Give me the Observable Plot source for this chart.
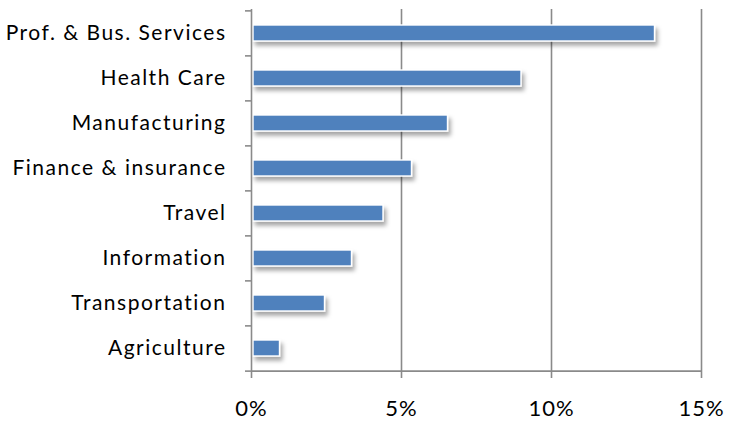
<!DOCTYPE html>
<html>
<head>
<meta charset="utf-8">
<script src="https://cdn.jsdelivr.net/npm/d3@7"></script>
<script src="https://cdn.jsdelivr.net/npm/@observablehq/plot@0.6"></script>
<style>
  html, body { margin: 0; padding: 0; background: #fff; }
  #chart svg { display: block; }
</style>
</head>
<body>
<div id="chart"></div>
<script>
const categories = ["Prof. & Bus. Services", "Health Care", "Manufacturing", "Finance & insurance", "Travel", "Information", "Transportation", "Agriculture"];
const values = [13.45, 9.0, 6.55, 5.35, 4.4, 3.35, 2.45, 0.95];
const xTicks = [0, 5, 10, 15];

const data = categories.map((c, i) => ({category: c, value: values[i]}));

const W = 729, H = 424;
const mTop = 9, mBottom = 53, mLeft = 251, mRight = 28;
const step = (H - mTop - mBottom) / categories.length;
const pad = 0.645;
const gray = "#8a8a8a";
const font = "Lato, 'Open Sans', sans-serif";

const plot = Plot.plot({
  width: W,
  height: H,
  marginTop: mTop,
  marginBottom: mBottom,
  marginLeft: mLeft,
  marginRight: mRight,
  style: {fontFamily: font, fontSize: "21px", color: "#000", background: "#fff"},
  x: {domain: [0, 15], ticks: xTicks, label: null},
  y: {domain: categories, paddingInner: pad, paddingOuter: pad / 2, label: null},
  marks: [
    Plot.gridX(xTicks.slice(1), {stroke: gray, strokeOpacity: 1, strokeWidth: 1.6}),
    Plot.barX(data, {x: "value", y: "category", fill: "#4f81bd", stroke: "#ffffff", strokeWidth: 1.4, insetLeft: 2}),
    Plot.ruleX([0], {stroke: gray, strokeWidth: 1.6}),
    Plot.ruleY([categories[categories.length - 1]], {dy: step / 2, stroke: gray, strokeWidth: 1.6, x1: 0, x2: 15}),
    Plot.axisX({ticks: xTicks, tickFormat: d => d + "%", tickSize: 7, tickPadding: 22, stroke: gray, strokeWidth: 1.6, fontSize: 22, fill: "#000", label: null}),
    Plot.axisY({tickSize: 0, tickPadding: 25, fontSize: 21, fill: "#000", label: null}),
    Plot.axisY({tickSize: 6, tickFormat: () => "", dy: -step / 2, stroke: gray, strokeWidth: 1.6, label: null}),
    Plot.axisY({ticks: [categories[categories.length - 1]], tickSize: 6, tickFormat: () => "", dy: step / 2, stroke: gray, strokeWidth: 1.6, label: null})
  ]
});

// soft drop shadow under the bars
const svg = d3.select(plot);
const defs = svg.insert("defs", ":first-child");
const f = defs.append("filter").attr("id", "barShadow").attr("x", "-10%").attr("y", "-30%").attr("width", "130%").attr("height", "200%");
f.append("feDropShadow").attr("dx", 2.5).attr("dy", 4).attr("stdDeviation", 2).attr("flood-color", "#000").attr("flood-opacity", 0.35);
svg.selectAll("g[aria-label='bar']").attr("filter", "url(#barShadow)");
svg.selectAll("g[aria-label='y-axis tick label'] text").style("letter-spacing", "1.5px");
svg.selectAll("g[aria-label='x-axis tick label'] text").style("letter-spacing", "1px");

document.getElementById("chart").appendChild(plot);
</script>
</body>
</html>
